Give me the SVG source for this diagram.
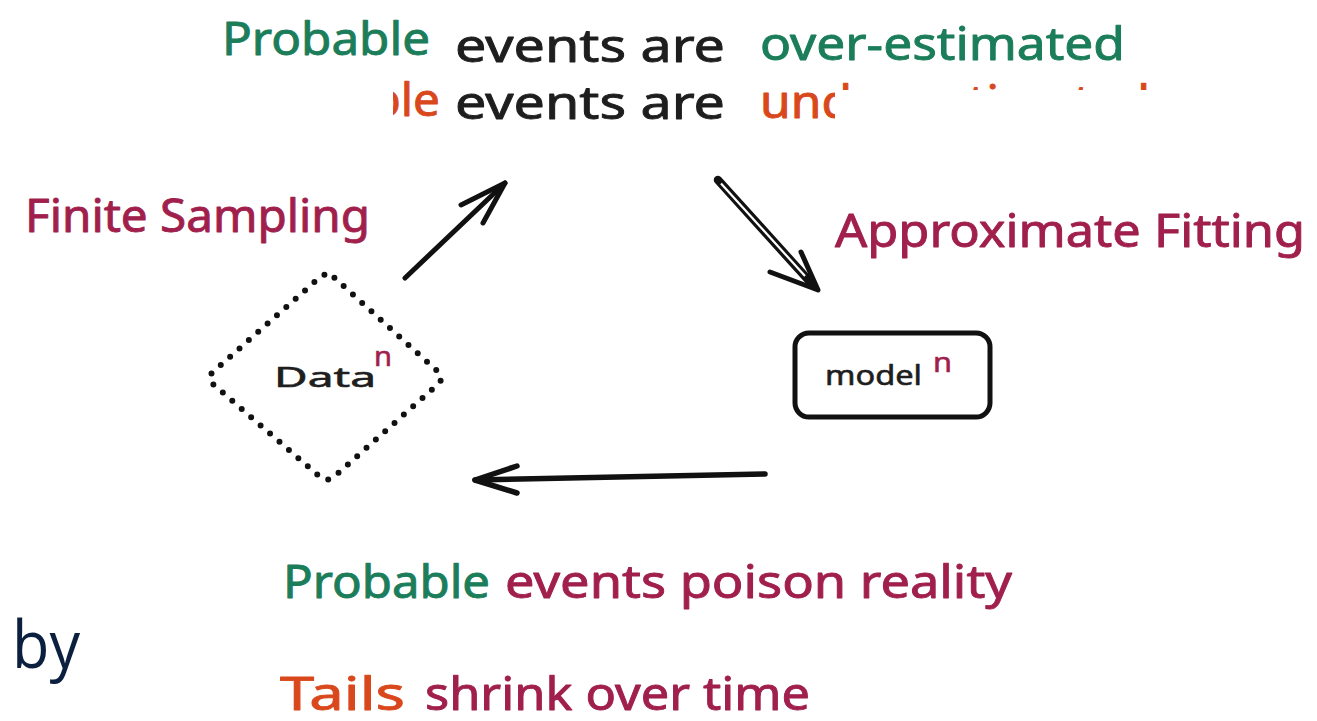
<svg xmlns="http://www.w3.org/2000/svg" width="1317" height="721" viewBox="0 0 1317 721">
  <style>
    .hand { font-family: "Noto Sans", "Lato", sans-serif; font-size: 46px; stroke-width: 0.9px; stroke-linejoin: round; }
    .small { font-family: "Noto Sans", "Lato", sans-serif; font-size: 28px; stroke-width: 0.6px; stroke-linejoin: round; }
    .green { fill: #1b7d5a; stroke: #1b7d5a; }
    .orange { fill: #d9481c; stroke: #d9481c; }
    .maroon { fill: #a01f4c; stroke: #a01f4c; }
    .ink { fill: #1e1e1e; stroke: #1e1e1e; }
    .line { fill: none; stroke: #111; stroke-linecap: round; stroke-linejoin: round; }
  </style>
  <defs>
    <clipPath id="line2clip">
      <rect x="393" y="60" width="442" height="80"/>
      <rect x="835" y="60" width="320" height="30"/>
    </clipPath>
  </defs>
  <rect width="1317" height="721" fill="#ffffff"/>

  <!-- headline -->
  <g id="headline">
    <text class="hand green" x="222" y="55" textLength="208" lengthAdjust="spacingAndGlyphs">Probable</text>
    <text class="hand ink" x="455" y="62" textLength="270" lengthAdjust="spacingAndGlyphs">events are</text>
    <text class="hand green" x="760" y="60" textLength="365" lengthAdjust="spacingAndGlyphs">over-estimated</text>
    <g clip-path="url(#line2clip)">
      <text class="hand orange" x="178" y="116" textLength="262" lengthAdjust="spacingAndGlyphs">Improbable</text>
      <text class="hand ink" x="455" y="119" textLength="270" lengthAdjust="spacingAndGlyphs">events are</text>
      <text class="hand orange" x="760" y="118" textLength="390" lengthAdjust="spacingAndGlyphs">under-estimated</text>
    </g>
  </g>

  <!-- edge labels -->
  <g id="label-sampling">
    <text class="hand maroon" x="25" y="232" textLength="345" lengthAdjust="spacingAndGlyphs">Finite Sampling</text>
  </g>
  <g id="label-fitting">
    <text class="hand maroon" x="835" y="247" textLength="470" lengthAdjust="spacingAndGlyphs">Approximate Fitting</text>
  </g>

  <!-- Data node -->
  <g id="node-data">
    <path class="line" stroke-width="6" stroke-dasharray="0 12.5"
          d="M334.4,277.7 L437.6,371.3 Q445,378 437.5,384.6 L334.5,476.4 Q327,483 319.4,476.4 L213.6,384.6 Q206,378 213.5,371.4 L319.5,277.6 Q327,271 334.4,277.7 Z"/>
    <text class="small ink" x="274" y="387" textLength="102" lengthAdjust="spacingAndGlyphs">Data</text>
    <text class="small maroon" x="374" y="366" textLength="18" lengthAdjust="spacingAndGlyphs">n</text>
  </g>

  <!-- model node -->
  <g id="node-model">
    <rect class="line" stroke-width="5" x="795" y="333" width="195" height="84" rx="14"/>
    <text class="small ink" x="825" y="385" textLength="97" lengthAdjust="spacingAndGlyphs">model</text>
    <text class="small maroon" x="933" y="372" textLength="19" lengthAdjust="spacingAndGlyphs">n</text>
  </g>

  <!-- connectors -->
  <g id="connectors">
    <!-- Data to headline -->
    <path class="line" stroke-width="5" d="M405,278 L505,183"/>
    <path class="line" stroke-width="5" d="M461,205 L505,183 L483,223"/>
    <!-- headline to model (double line) -->
    <path class="line" stroke-width="8.5" d="M718,180 L812,284"/>
    <path fill="none" stroke="#ffffff" stroke-width="2.2" stroke-linecap="butt" d="M721,183.5 L805,276"/>
    <path class="line" stroke-width="5" d="M770,272 L818,290 L801,252"/>
    <!-- model to Data -->
    <path class="line" stroke-width="5.5" d="M765,474 L475,480"/>
    <path class="line" stroke-width="5.5" d="M517,466 L475,480 L517,493"/>
  </g>

  <!-- feedback captions -->
  <g id="caption-poison">
    <text class="hand green" x="283" y="598" textLength="207" lengthAdjust="spacingAndGlyphs">Probable</text>
    <text class="hand maroon" x="505" y="598" textLength="507" lengthAdjust="spacingAndGlyphs">events poison reality</text>
  </g>
  <g id="caption-tails">
    <text class="hand orange" x="280" y="710" textLength="125" lengthAdjust="spacingAndGlyphs">Tails</text>
    <text class="hand maroon" x="425" y="710" textLength="385" lengthAdjust="spacingAndGlyphs">shrink over time</text>
  </g>

  <g id="by">
    <text x="12" y="668" font-family="Open Sans, Liberation Sans, sans-serif" font-size="66" fill="#0b1f3f" textLength="68" lengthAdjust="spacingAndGlyphs">by</text>
  </g>
</svg>
